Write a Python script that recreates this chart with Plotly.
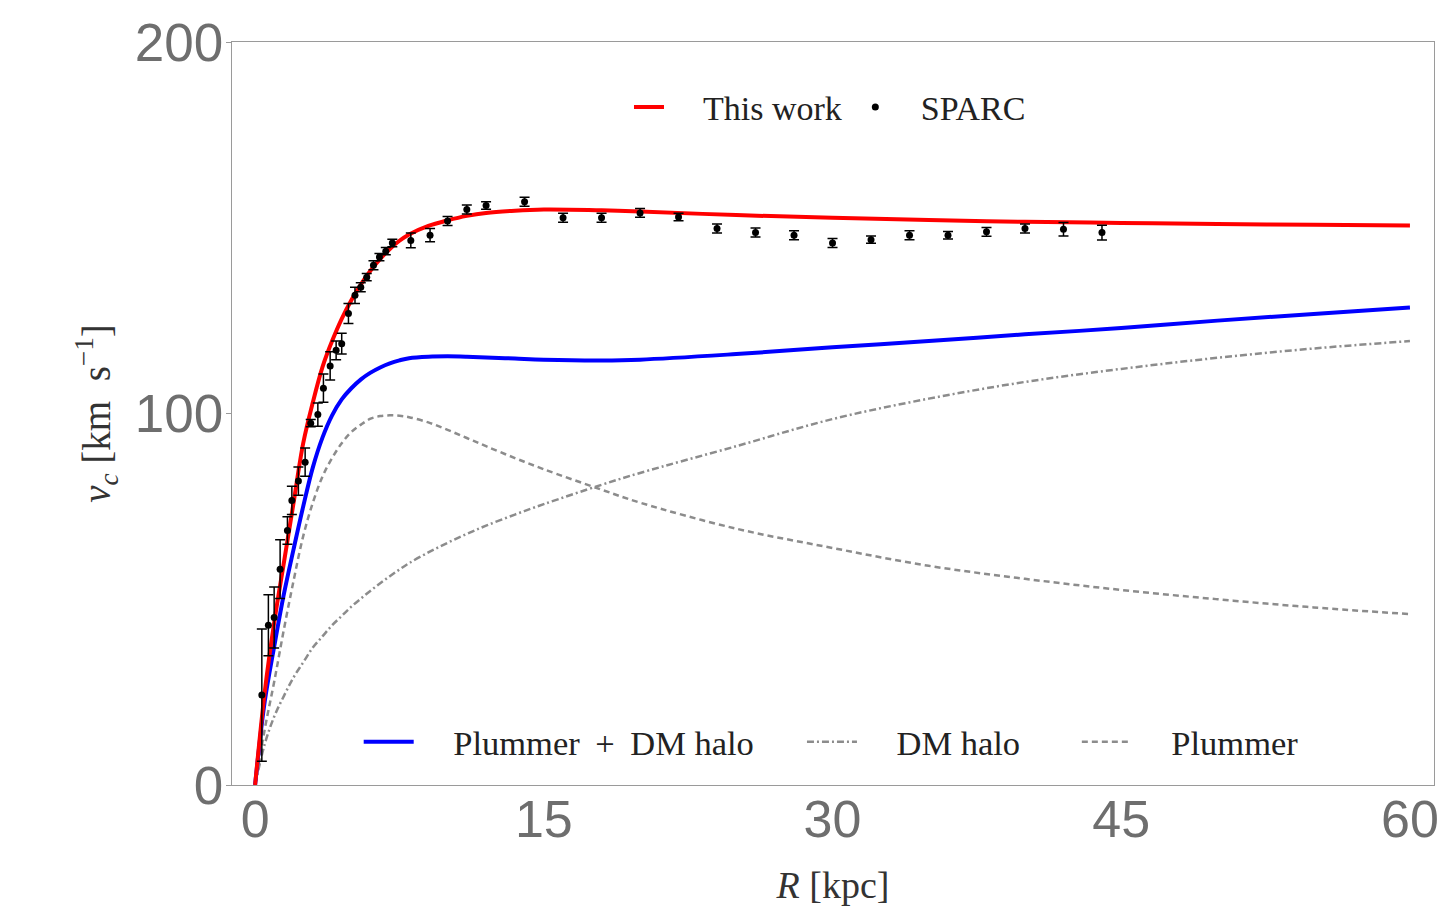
import plotly.graph_objects as go

# ---- SPARC data ----
sparc_R = [0.35, 0.69, 0.99, 1.30, 1.68, 1.91, 2.25, 2.60, 2.89, 3.26, 3.55, 3.90, 4.21, 4.50,
           4.85, 5.19, 5.49, 5.80, 6.15, 6.46, 6.79, 7.13, 8.09, 9.09, 10.0, 11.0, 12.0, 14.0,
           16.0, 18.0, 20.0, 22.0, 24.0, 26.0, 28.0, 30.0, 32.0, 34.0, 36.0, 38.0, 40.0, 42.0, 44.0]
sparc_v = [24.2, 43.0, 45.1, 58.1, 68.5, 76.6, 81.8, 86.9, 97.4, 99.7, 106.8, 112.8, 117.0, 118.8,
           126.9, 131.8, 134.0, 136.7, 139.9, 142.1, 143.7, 145.9, 146.6, 148.0, 151.8, 154.9, 156.0, 157.0,
           152.7, 152.7, 154.0, 152.9, 149.8, 148.7, 148.0, 145.9, 146.8, 148.0, 148.0, 148.9, 149.8, 149.6, 148.7]
sparc_err = [17.8, 8.2, 8.2, 7.9, 3.7, 3.8, 3.8, 3.8, 1.0, 3.1, 3.8, 3.8, 2.5, 2.8,
             2.7, 2.2, 1.2, 1.0, 1.2, 1.0, 1.0, 1.0, 2.0, 1.8, 1.2, 1.2, 1.0, 1.2,
             1.2, 1.2, 1.2, 1.0, 1.2, 1.2, 1.2, 1.2, 1.0, 1.2, 1.0, 1.2, 1.2, 1.8, 2.0]

# ---- model curves ----
curve_R = [0, 0.5, 1, 1.5, 2, 2.5, 3, 3.5, 4, 4.5, 5, 5.5, 6, 6.5, 7, 7.5, 8, 9, 10, 11, 12,
           13.5, 15, 18, 20, 25, 30, 35, 40, 45, 50, 55, 60]
this_work = [0, 25, 44, 60, 76, 92, 103, 112.5, 119.5, 125.5, 130.5, 134.8, 138.5, 141.6, 144.3,
             146.5, 148.2, 150.5, 152.0, 153.2, 154.0, 154.6, 154.9, 154.7, 154.4, 153.4, 152.7,
             152.1, 151.6, 151.3, 151.0, 150.8, 150.6]
plummer_dm = [0, 22.5, 37.5, 51.5, 63.5, 75, 85.5, 93.5, 99.5, 103.8, 106.8, 109.2, 111, 112.4, 113.5,
              114.3, 114.9, 115.3, 115.4, 115.3, 115.1, 114.8, 114.5, 114.3, 114.5, 116, 117.8,
              119.5, 121.3, 123, 125, 126.8, 128.5]
dm_halo = [0, 11, 18.5, 24, 29, 33, 37, 40, 43, 45.5, 48, 50.2, 52.3, 54.3, 56.2, 58, 59.7, 62.6,
           65.2, 67.6, 69.8, 72.8, 75.6, 80.8, 84, 91.2, 98.5, 104, 108.5, 112, 115, 117.5, 119.5]
plummer = [0, 15, 28, 42, 55, 67, 76, 83, 88, 92, 95, 97, 98.6, 99.3, 99.5, 99.4, 99, 97.6,
           95.6, 93.4, 91.2, 88.0, 85, 79.5, 76, 69, 63.8, 59, 55.5, 52.5, 50, 47.8, 46]

x_ticks = [0, 15, 30, 45, 60]
y_ticks = [0, 100, 200]

NB = "\u00a0"
TH = "\u2009"
SERIF = "Liberation Serif, Times New Roman, serif"
SANS = "Liberation Sans, Arial, sans-serif"

fig = go.Figure()

fig.add_trace(go.Scatter(x=curve_R, y=plummer, mode="lines", line_shape="spline",
                         line=dict(color="#8c8c8c", width=2.5, dash="6px,4px"),
                         name=NB * 4 + "Plummer", legend="legend2", legendrank=3))
fig.add_trace(go.Scatter(x=curve_R, y=dm_halo, mode="lines", line_shape="spline",
                         line=dict(color="#8c8c8c", width=2.5, dash="7px,3px,2px,3px"),
                         name=NB * 4 + "DM halo" + NB * 6, legend="legend2", legendrank=2))
fig.add_trace(go.Scatter(x=curve_R, y=plummer_dm, mode="lines", line_shape="spline",
                         line=dict(color="#0000ff", width=4),
                         name=NB * 4 + "Plummer" + NB + TH + "+" + NB + TH + "DM halo" + NB * 5,
                         legend="legend2", legendrank=1))
fig.add_trace(go.Scatter(x=curve_R, y=this_work, mode="lines", line_shape="spline",
                         line=dict(color="#ff0000", width=4),
                         name=NB * 4 + "This work" + NB * 1, legend="legend", legendrank=1))
fig.add_trace(go.Scatter(x=sparc_R, y=sparc_v, mode="markers",
                         marker=dict(color="black", size=7),
                         error_y=dict(type="data", array=sparc_err, color="black",
                                      thickness=1.5, width=5),
                         name=NB * 3 + "SPARC", legend="legend", legendrank=2))

fig.update_layout(
    width=1440, height=902,
    margin=dict(l=224, r=14, t=34, b=125),
    plot_bgcolor="white", paper_bgcolor="white",
    showlegend=True,
    legend=dict(orientation="h", x=0.4975, xanchor="center", y=0.912, yanchor="middle",
                font=dict(family=SERIF, size=34, color="#222"), bgcolor="rgba(0,0,0,0)",
                itemwidth=30, traceorder="normal"),
    legend2=dict(orientation="h", x=0.4985, xanchor="center", y=0.058, yanchor="middle",
                 font=dict(family=SERIF, size=34.5, color="#222"), bgcolor="rgba(0,0,0,0)",
                 itemwidth=50, traceorder="normal"),
    xaxis=dict(range=[-1.2, 61.25], tickvals=x_ticks, ticktext=[str(t) for t in x_ticks],
               automargin=False,
               showgrid=False, zeroline=False, showline=True, mirror=True,
               linecolor="#9a9a9a", linewidth=1.2, ticks="", ticklabelstandoff=-12,
               tickfont=dict(family=SANS, size=52, color="#6e6e6e"),
               title=dict(text="<i>R</i> [kpc]", standoff=24,
                          font=dict(family=SERIF, size=38, color="#333"))),
    yaxis=dict(range=[0, 200], tickvals=y_ticks, ticktext=[str(t) for t in y_ticks],
               automargin=False,
               showgrid=False, zeroline=False, showline=True, mirror=True,
               linecolor="#9a9a9a", linewidth=1.2, ticks="outside", ticklen=5, tickcolor="#9a9a9a",
               ticklabelstandoff=-8,
               tickfont=dict(family=SANS, size=53, color="#6e6e6e"),
               title=dict(text="<i>v</i><sub><i>c</i></sub> [km" + NB + NB + "s<sup>−1</sup>]", standoff=12,
                          font=dict(family=SERIF, size=39, color="#333"))),
)

fig.write_html("out.html")
